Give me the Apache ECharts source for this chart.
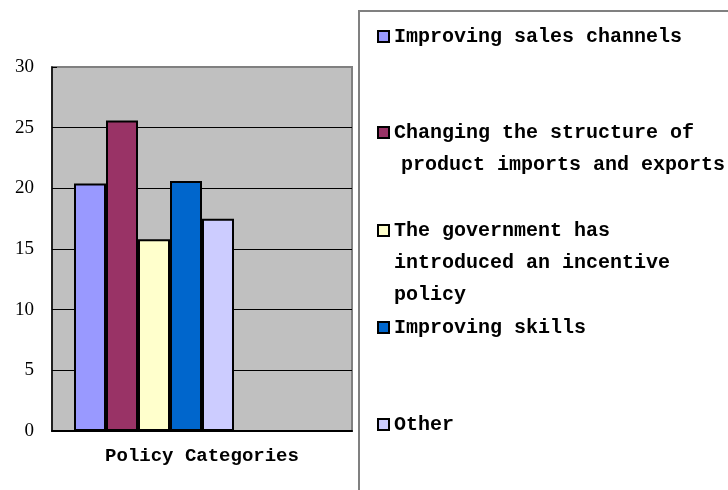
<!DOCTYPE html>
<html><head><meta charset="utf-8">
<script src="https://cdn.jsdelivr.net/npm/echarts@6/dist/echarts.min.js"></script>
<style>html,body{margin:0;padding:0;background:#fff}#c{width:728px;height:490px}</style>
</head><body><div id="c"></div>
<script>
// ---- data ----
const categories = ['Policy Categories'];
const seriesNames = [
  'Improving sales channels',
  'Changing the structure of product imports and exports',
  'The government has introduced an incentive policy',
  'Improving skills',
  'Other'
];
const legendLines = [
  ['Improving sales channels'],
  ['Changing the structure of', 'product imports and exports'],
  ['The government has', 'introduced an incentive', 'policy'],
  ['Improving skills'],
  ['Other']
];
const values = [20.4, 25.6, 15.8, 20.6, 17.5];
const colors = ['#9999ff', '#993366', '#ffffcc', '#0066cc', '#ccccff'];
const emptySeriesNames = ['e6', 'e7', 'e8'];
const yMin = 0, yMax = 30, yInterval = 5;

// ---- layout ----
const legendCenters = [36, 132, 230, 327, 424];
const LH = 32;
const MONO = '"Liberation Mono", "DejaVu Sans Mono", monospace';

const series = seriesNames.map((n, i) => ({
  name: n, type: 'bar', data: [values[i]], barWidth: 32, barGap: '0%',
  itemStyle: { color: colors[i], borderColor: '#000', borderWidth: 2 }
})).concat(emptySeriesNames.map(n => ({
  name: n, type: 'bar', data: [null], barWidth: 32, barGap: '0%'
})));

const legends = seriesNames.map((n, i) => {
  const lines = legendLines[i];
  const k = lines.length;
  return {
    data: [n], orient: 'vertical', left: 377,
    top: legendCenters[i] - 9.5,
    padding: 0, itemWidth: 11, itemHeight: 11, selectedMode: false,
    icon: 'rect',
    itemStyle: { borderColor: '#000', borderWidth: 2 },
    formatter: () => lines.map((l, j) => (i === 1 && j > 0) ? '{b|' + l + '}' : '{a|' + l + '}').join('\n'),
    textStyle: {
      padding: [(k - 1) * LH, 0, 0, 0],
      rich: {
        a: { fontFamily: MONO, fontWeight: 'bold', fontSize: 20, lineHeight: LH, color: '#000' },
        b: { fontFamily: MONO, fontWeight: 'bold', fontSize: 20, lineHeight: LH, color: '#000', padding: [0, 0, 0, 7] }
      }
    }
  };
});

const chart = echarts.init(document.getElementById('c'), null, { renderer: 'canvas' });
chart.setOption({
  animation: false,
  backgroundColor: '#fff',
  color: colors,
  grid: {
    left: 52, right: 376, top: 67, bottom: 59,
    show: true, backgroundColor: '#c0c0c0', borderColor: '#808080', borderWidth: 2,
    containLabel: false, outerBoundsMode: 'none'
  },
  xAxis: {
    type: 'category', data: categories,
    axisLine: { show: true, lineStyle: { color: '#000', width: 2 } },
    axisTick: { show: false },
    axisLabel: { fontFamily: MONO, fontWeight: 'bold', fontSize: 19, color: '#000', margin: 16 },
    splitLine: { show: false }
  },
  yAxis: {
    type: 'value', min: yMin, max: yMax, interval: yInterval,
    axisLine: { show: true, lineStyle: { color: '#000', width: 1.5 } },
    axisTick: { show: true, inside: true, length: 5, lineStyle: { color: '#000' } },
    axisLabel: { fontFamily: '"Liberation Serif", serif', fontSize: 19, color: '#000', margin: 18 },
    splitLine: { show: true, showMaxLine: false, showMinLine: false, lineStyle: { color: '#000', width: 1 } }
  },
  legend: legends,
  graphic: [{
    type: 'rect', silent: true, z: 0,
    shape: { x: 359, y: 11, width: 420, height: 500 },
    style: { fill: 'none', stroke: '#808080', lineWidth: 2 }
  }],
  series: series
});
</script></body></html>
